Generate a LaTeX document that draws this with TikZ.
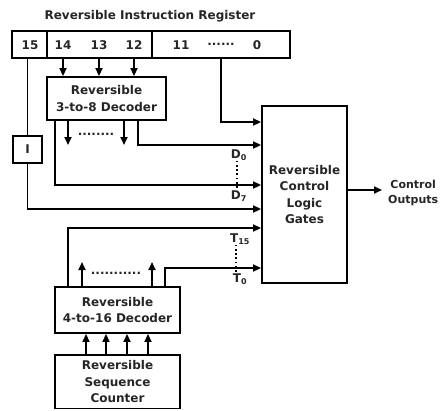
\documentclass[tikz,border=0pt]{standalone}
\usepackage{fontspec}
\setmainfont{DejaVu Sans}
\usetikzlibrary{arrows.meta}
\tikzset{
  lbl/.style={font=\fontsize{12}{13}\selectfont\bfseries, inner sep=0pt, align=center, text=black!85},
  box/.style={draw, line width=1.9pt, inner sep=0pt, align=center, font=\fontsize{12}{16.5}\selectfont\bfseries, text=black!85},
  wire/.style={line width=1.9pt},
  arr/.style={line width=1.9pt, -{Triangle[length=8pt,width=7pt]}},
  vdots/.style={line width=1.7pt, dash pattern=on 1.7pt off 2.6pt}
}
\begin{document}
\begin{tikzpicture}[x=1pt,y=-1pt]
\useasboundingbox[fill=white] (0,0) rectangle (443,410);
% register
\node[lbl] (title) at (150,16) {Reversible Instruction Register};
\node[box, minimum width=278pt, minimum height=27pt] (reg) at (151,44.5) {};
\draw[line width=2.6pt] (47,31) -- (47,58);
\draw[line width=2.6pt] (152,31) -- (152,58);
\node[lbl] (b15) at (30,45) {15};
\node[lbl] (b14) at (63,45) {14};
\node[lbl] (b13) at (99,45) {13};
\node[lbl] (b12) at (134,45) {12};
\node[lbl] (b11) at (181,45) {11};
\node[lbl] (bdots) at (221,44) {......};
\node[lbl] (b0) at (257,45) {0};
% boxes
\node[box, minimum width=119pt, minimum height=43pt] (dec3) at (106.5,98.5) {Reversible\\3-to-8 Decoder};
\node[box, minimum width=29pt, minimum height=27pt] (ibox) at (27.5,149.5) {I};
\node[box, minimum width=85pt, minimum height=177pt] (ctrl) at (304.5,194.5) {Reversible\\Control\\Logic\\Gates};
\node[box, minimum width=125pt, minimum height=46pt] (dec4) at (117.5,310) {Reversible\\4-to-16 Decoder};
\node[box, minimum width=125pt, minimum height=53.5pt] (cnt) at (117.5,381.75) {Reversible\\Sequence\\Counter};
\node[lbl, anchor=west, font=\fontsize{11}{14.5}\selectfont\bfseries] (outs) at (388,193) {Control\\Outputs};
% input rows
\coordinate (r1) at (0,122);
\coordinate (r2) at (0,145);
\coordinate (r3) at (0,185);
\coordinate (r4) at (0,209);
\coordinate (r5) at (0,228);
\coordinate (r6) at (0,268);
\coordinate (oend) at (382,190);
% register to decoder
\draw[arr] (b14 |- reg.south) -- (b14 |- dec3.north);
\draw[arr] (b13 |- reg.south) -- (b13 |- dec3.north);
\draw[arr] (b12 |- reg.south) -- (b12 |- dec3.north);
% 11..0 to control
\draw[arr] (bdots |- reg.south) -- (bdots |- r1) -- (ctrl.west |- r1);
% decoder outputs
\coordinate (d3a) at (68,145);
\coordinate (d3b) at (124,145);
\draw[arr] (d3a |- dec3.south) -- (d3a);
\draw[arr] (d3b |- dec3.south) -- (d3b);
\node[lbl] (hd1) at (96,134) {........};
\coordinate (d3r) at (138,0);
\coordinate (d3l) at (55,0);
\draw[arr] (d3r |- dec3.south) -- (d3r |- r2) -- (ctrl.west |- r2);
\draw[arr] (d3l |- dec3.south) -- (d3l |- r3) -- (ctrl.west |- r3);
% bit 15 through I
\draw[wire] (ibox.north |- reg.south) -- (ibox.north);
\draw[arr] (ibox.south) -- (ibox.south |- r4) -- (ctrl.west |- r4);
% 4-to-16 decoder outputs
\coordinate (t15x) at (68,0);
\coordinate (t0x) at (165,0);
\draw[arr] (t15x |- dec4.north) -- (t15x |- r5) -- (ctrl.west |- r5);
\draw[arr] (t0x |- dec4.north) -- (t0x |- r6) -- (ctrl.west |- r6);
\coordinate (u1) at (82,262);
\coordinate (u2) at (152,262);
\draw[arr] (u1 |- dec4.north) -- (u1);
\draw[arr] (u2 |- dec4.north) -- (u2);
\node[lbl] (hd2) at (116,273) {...........};
% counter to decoder
\foreach \xx/\nm in {86/c1,106/c2,127/c3,148/c4}{
  \coordinate (\nm) at (\xx,0);
  \draw[arr] (\nm |- cnt.north) -- (\nm |- dec4.south);
}
% labels
\node[lbl] (D0) at (239,155) {D\textsubscript{0}};
\node[lbl] (D7) at (239,196) {D\textsubscript{7}};
\node[lbl] (T15) at (240,239) {T\textsubscript{15}};
\node[lbl] (T0) at (240,279) {T\textsubscript{0}};
\draw[vdots] (D0.south -| 237,0) -- (D7.north -| 237,0);
\draw[vdots] (T15.south -| 236,0) -- (T0.north -| 236,0);
% output
\draw[arr] (ctrl.east |- oend) -- (oend);
\end{tikzpicture}
\end{document}
